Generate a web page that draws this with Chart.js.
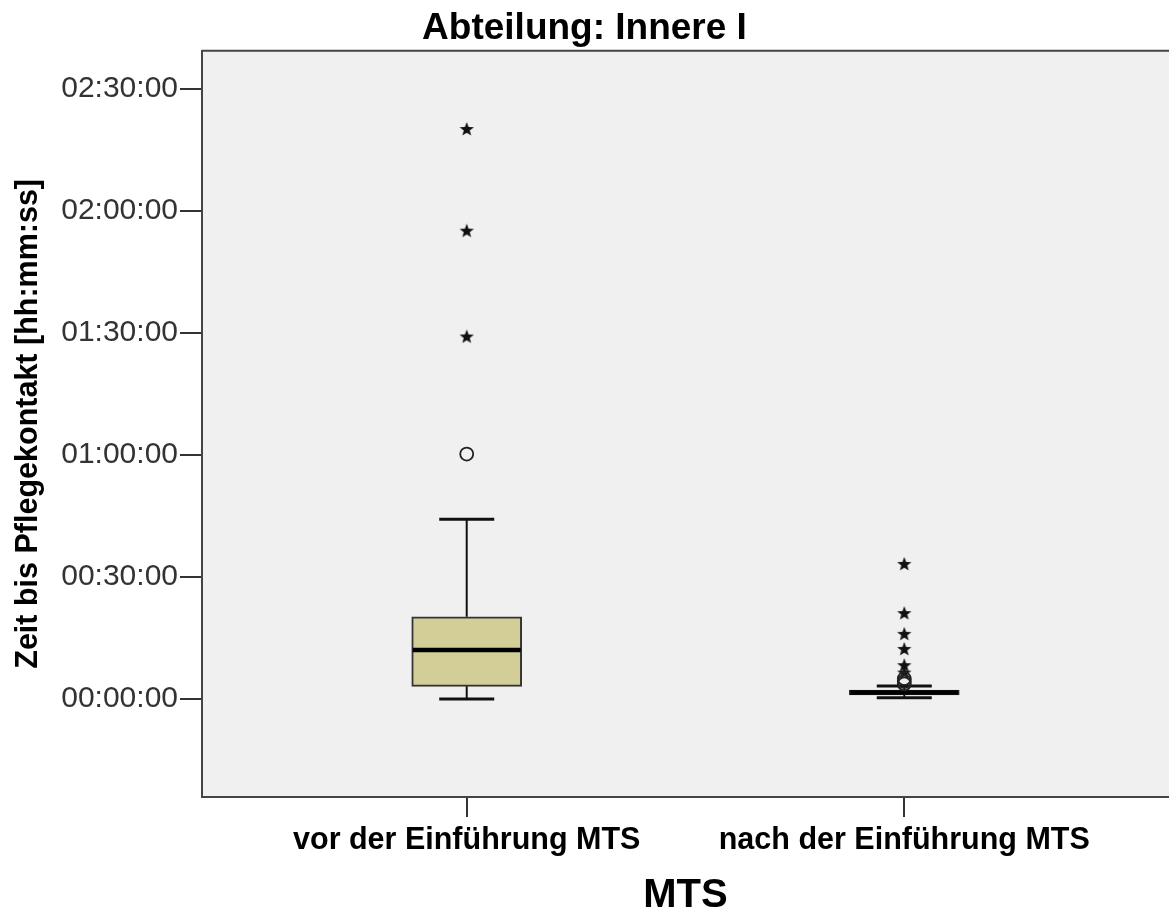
<!DOCTYPE html>
<html>
<head>
<meta charset="utf-8">
<script src="https://cdn.jsdelivr.net/npm/chart.js@4/dist/chart.umd.min.js"></script>
<style>
  html, body { margin: 0; padding: 0; background: #fff; overflow: hidden; }
  #wrap { width: 1169px; height: 909px; }
</style>
</head>
<body>
<div id="wrap"><canvas id="boxChart"></canvas></div>
<script>
// values in minutes
const categories = ["vor der Einführung MTS", "nach der Einführung MTS"];
const positions = [1, 2];
const whiskerLow = [0, 0.3];
const q1 = [3.1, 1.0];
const median = [12.05, 1.6];
const q3 = [20.2, 2.2];
const whiskerHigh = [44.2, 3.2];

// outliers (circle) and extremes (star), per group
const outliersVor = [60.2];
const extremesVor = [140.1, 115.1, 89.1];
const outliersNach = [5.0, 4.3, 3.7];
const extremesNach = [33.2, 21.1, 16.0, 12.3, 8.3, 6.5];

const yTicks = [0, 30, 60, 90, 120, 150];
const yTickLabels = ["00:00:00", "00:30:00", "01:00:00", "01:30:00", "02:00:00", "02:30:00"];

const FONT = "'Liberation Sans', Arial, sans-serif";

// filled five-point star marker
function makeStar(size) {
  const c = document.createElement("canvas");
  c.width = size; c.height = size;
  const g = c.getContext("2d");
  const cx = size / 2, cy = size / 2 + 0.5;
  const outer = size / 2 - 0.5, inner = outer * 0.42;
  g.beginPath();
  for (let i = 0; i < 10; i++) {
    const r = i % 2 === 0 ? outer : inner;
    const a = -Math.PI / 2 + i * Math.PI / 5;
    const px = cx + r * Math.cos(a), py = cy + r * Math.sin(a);
    if (i === 0) g.moveTo(px, py); else g.lineTo(px, py);
  }
  g.closePath();
  g.fillStyle = "#111";
  g.fill();
  return c;
}
const star = makeStar(16);

const datasets = [];

// boxes
datasets.push({
  type: "bar",
  data: positions.map((x, i) => ({ x: x, y: [q1[i], q3[i]] })),
  backgroundColor: "#d3ce97",
  borderColor: "#333",
  borderWidth: 2,
  borderSkipped: false,
  barThickness: 110,
  order: 4
});

// whisker stems
positions.forEach((x, i) => {
  datasets.push({
    type: "line",
    data: [{ x: x, y: q3[i] }, { x: x, y: whiskerHigh[i] }],
    borderColor: "#111",
    borderWidth: 2,
    pointRadius: 0,
    order: 3
  });
  datasets.push({
    type: "line",
    data: [{ x: x, y: whiskerLow[i] }, { x: x, y: q1[i] }],
    borderColor: "#111",
    borderWidth: 2,
    pointRadius: 0,
    order: 3
  });
});

// whisker caps
datasets.push({
  type: "scatter",
  data: positions.flatMap((x, i) => [{ x: x, y: whiskerLow[i] }, { x: x, y: whiskerHigh[i] }]),
  pointStyle: "line",
  pointRadius: 27.5,
  borderColor: "#111",
  borderWidth: 3,
  order: 2
});

// medians
datasets.push({
  type: "scatter",
  data: positions.map((x, i) => ({ x: x, y: median[i] })),
  pointStyle: "line",
  pointRadius: 54,
  borderColor: "#000",
  borderWidth: 4.5,
  order: 1
});

// circles
datasets.push({
  type: "scatter",
  data: outliersVor.map(v => ({ x: 1, y: v })).concat(outliersNach.map(v => ({ x: 2, y: v }))),
  pointStyle: "circle",
  pointRadius: 6.5,
  backgroundColor: "rgba(0,0,0,0)",
  borderColor: "#222",
  borderWidth: 1.8,
  order: 0
});

// stars
datasets.push({
  type: "scatter",
  data: extremesVor.map(v => ({ x: 1, y: v })).concat(extremesNach.map(v => ({ x: 2, y: v }))),
  pointStyle: star,
  order: 0
});

const framePlugin = {
  id: "frame",
  beforeDraw(chart) {
    const { ctx, chartArea: a } = chart;
    ctx.save();
    ctx.fillStyle = "#f0f0f0";
    ctx.fillRect(a.left, a.top, a.right - a.left, a.bottom - a.top);
    ctx.restore();
  },
  afterDraw(chart) {
    const { ctx, chartArea: a } = chart;
    ctx.save();
    ctx.strokeStyle = "#444";
    ctx.lineWidth = 2;
    ctx.beginPath();
    ctx.moveTo(a.left, a.top);
    ctx.lineTo(a.right, a.top);
    ctx.stroke();
    ctx.restore();
  }
};

new Chart(document.getElementById("boxChart"), {
  type: "scatter",
  data: { datasets: datasets },
  plugins: [framePlugin],
  options: {
    responsive: true,
    maintainAspectRatio: false,
    animation: false,
    layout: { padding: 0, autoPadding: false },
    plugins: {
      legend: { display: false },
      tooltip: { enabled: false },
      title: {
        display: true,
        text: "Abteilung: Innere I",
        color: "#000",
        font: { family: FONT, size: 37, weight: "bold", lineHeight: 1.1 },
        padding: { top: 8, bottom: 2 }
      }
    },
    scales: {
      x: {
        type: "linear",
        min: 0.395,
        max: 2.605,
        offset: false,
        afterBuildTicks: s => { s.ticks = positions.map(v => ({ value: v })); },
        afterFit: s => { s.height = 112; s.paddingLeft = 0; s.paddingRight = 0; },
        ticks: {
          color: "#000",
          padding: 5,
          font: { family: FONT, size: 30.5, weight: "bold" },
          callback: (v) => categories[positions.indexOf(v)]
        },
        grid: { offset: false, drawOnChartArea: false, drawTicks: true, tickLength: 20, color: "#333", lineWidth: 2 },
        border: { display: true, color: "#444", width: 2 },
        title: {
          display: true,
          text: "MTS",
          color: "#000",
          font: { family: FONT, size: 40, weight: "bold", lineHeight: 1 },
          padding: { top: 0, bottom: -7 }
        }
      },
      y: {
        type: "linear",
        min: -24.1,
        max: 159.34,
        afterBuildTicks: s => { s.ticks = yTicks.map(v => ({ value: v })); },
        afterFit: s => { s.width = 202; s.paddingTop = 0; s.paddingBottom = 0; },
        ticks: {
          color: "#333",
          padding: 2,
          font: { family: FONT, size: 30 },
          callback: (v) => yTickLabels[yTicks.indexOf(v)]
        },
        grid: { drawOnChartArea: false, drawTicks: true, tickLength: 22, color: "#333", lineWidth: 2 },
        border: { display: true, color: "#444", width: 2 },
        title: {
          display: true,
          text: "Zeit bis Pflegekontakt [hh:mm:ss]",
          color: "#000",
          font: { family: FONT, size: 30.5, weight: "bold", lineHeight: 1.2 },
          padding: { top: 10, bottom: 0 }
        }
      }
    }
  }
});
</script>
</body>
</html>
